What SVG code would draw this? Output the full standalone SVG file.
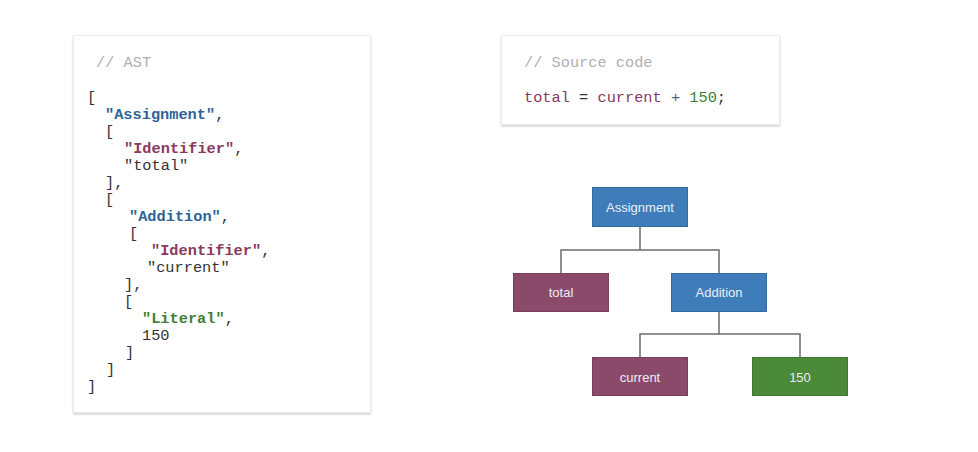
<svg xmlns="http://www.w3.org/2000/svg" width="978" height="452" viewBox="0 0 978 452">
  <defs>
    <filter id="cardShadow" x="-5%" y="-5%" width="110%" height="110%">
      <feDropShadow dx="0" dy="1.5" stdDeviation="1" flood-color="#000" flood-opacity="0.18"/>
    </filter>
  </defs>
  <style>
    .card { fill: #ffffff; stroke: #ececec; stroke-width: 1; filter: url(#cardShadow); }
    .code { font-family: "Liberation Mono", "DejaVu Sans Mono", monospace; font-size: 15.3px; fill: #333333; }
    .b { font-weight: bold; }
    .cmt { fill: #b0b0b0; }
    .kw { fill: #2f6396; }
    .id { fill: #8a3a60; }
    .lit { fill: #3f7f35; }
    .op { fill: #4a6680; }
    .node rect { stroke-width: 1; }
    .node text { font-family: "Liberation Sans", Arial, sans-serif; font-size: 13px; fill: #e8eef5; text-anchor: middle; }
    .blue { fill: #3f7dba; stroke: #356aa0; }
    .red { fill: #8c4a6b; stroke: #7a3e5c; }
    .green { fill: #4b8a39; stroke: #3f7630; }
    .conn { fill: none; stroke: #6b6b6b; stroke-width: 1.5; }
  </style>
  <rect width="978" height="452" fill="#ffffff"/>

  <!-- AST card -->
  <g id="ast-card">
    <rect class="card" x="73.500" y="35.500" width="297" height="377"/>
    <g class="code">
      <text class="cmt" x="96" y="67">// AST</text>
      <text x="87" y="102">[</text>
      <text x="105" y="119"><tspan class="kw b">"Assignment"</tspan>,</text>
      <text x="105" y="136">[</text>
      <text x="124" y="153"><tspan class="id b">"Identifier"</tspan>,</text>
      <text x="124" y="170">"total"</text>
      <text x="105" y="187">],</text>
      <text x="105" y="204">[</text>
      <text x="129" y="221"><tspan class="kw b">"Addition"</tspan>,</text>
      <text x="129" y="238">[</text>
      <text x="151" y="255"><tspan class="id b">"Identifier"</tspan>,</text>
      <text x="147" y="272">"current"</text>
      <text x="124" y="289">],</text>
      <text x="124" y="306">[</text>
      <text x="142" y="323"><tspan class="lit b">"Literal"</tspan>,</text>
      <text x="142" y="340">150</text>
      <text x="125" y="357">]</text>
      <text x="106" y="374">]</text>
      <text x="87" y="391">]</text>
    </g>
  </g>

  <!-- Source code card -->
  <g id="source-card">
    <rect class="card" x="501.500" y="35.500" width="278" height="89"/>
    <g class="code">
      <text class="cmt" x="524" y="67">// Source code</text>
      <text x="524" y="102"><tspan class="id">total</tspan> = <tspan class="id">current</tspan> <tspan class="op">+</tspan> <tspan class="lit">150</tspan>;</text>
    </g>
  </g>

  <!-- Tree connectors -->
  <g id="connectors">
    <path class="conn" d="M640 227 V250 M561 273 V250 H719 V273"/>
    <path class="conn" d="M719 312 V334 M640 357 V334 H800 V357"/>
  </g>

  <!-- Tree nodes -->
  <g id="node-assignment" class="node">
    <rect class="blue" x="592.500" y="187.500" width="95" height="39"/>
    <text x="640" y="212">Assignment</text>
  </g>
  <g id="node-total" class="node">
    <rect class="red" x="513.500" y="273.500" width="95" height="38"/>
    <text x="561" y="297">total</text>
  </g>
  <g id="node-addition" class="node">
    <rect class="blue" x="671.500" y="273.500" width="95" height="38"/>
    <text x="719" y="297">Addition</text>
  </g>
  <g id="node-current" class="node">
    <rect class="red" x="592.500" y="357.500" width="95" height="38"/>
    <text x="640" y="382">current</text>
  </g>
  <g id="node-150" class="node">
    <rect class="green" x="752.500" y="357.500" width="95" height="38"/>
    <text x="800" y="382">150</text>
  </g>
</svg>
